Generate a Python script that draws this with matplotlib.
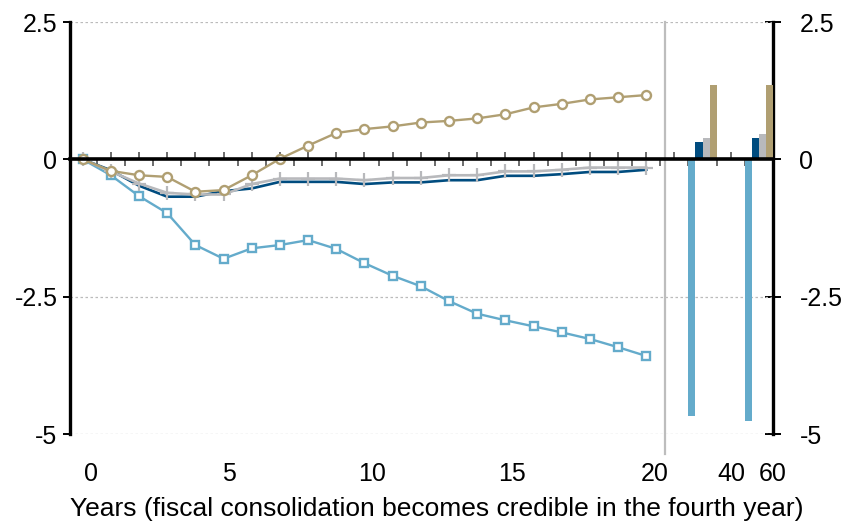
import matplotlib
matplotlib.use("Agg")
import matplotlib.pyplot as plt
import numpy as np
from matplotlib.ticker import FixedLocator, NullFormatter

plt.rcParams['font.family'] = ['Liberation Sans', 'DejaVu Sans']

# ---- data ----
years = list(range(0, 21))
tan_series = [0.0, -0.21, -0.29, -0.32, -0.59, -0.56, -0.29, 0.01, 0.25, 0.48, 0.55,
              0.60, 0.67, 0.70, 0.745, 0.82, 0.945, 1.01, 1.09, 1.13, 1.17]
blue_series = [0.0, -0.29, -0.67, -0.98, -1.56, -1.81, -1.62, -1.56, -1.47, -1.63, -1.89,
               -2.12, -2.31, -2.58, -2.81, -2.93, -3.04, -3.15, -3.27, -3.42, -3.58]
gray_series = [0.0, -0.22, -0.44, -0.61, -0.64, -0.64, -0.45, -0.35, -0.35, -0.35, -0.38,
               -0.34, -0.34, -0.29, -0.29, -0.22, -0.22, -0.19, -0.15, -0.15, -0.15]
navy_series = [0.0, -0.20, -0.48, -0.68, -0.68, -0.58, -0.53, -0.41, -0.41, -0.41, -0.45,
               -0.42, -0.42, -0.38, -0.38, -0.30, -0.30, -0.27, -0.23, -0.23, -0.19]

long_run_labels = ["40", "60"]
bar_blue = [-4.67, -4.76]
bar_navy = [0.31, 0.39]
bar_gray = [0.39, 0.46]
bar_tan = [1.35, 1.35]

x_tick_labels = ["0", "5", "10", "15", "20", "40", "60"]
y_ticks = [-5, -2.5, 0, 2.5]
y_tick_labels = ["-5", "-2.5", "0", "2.5"]
xlabel = "Years (fiscal consolidation becomes credible in the fourth year)"

# ---- style ----
C_TAN = "#B09F72"
C_BLUE = "#64ABCB"
C_GRAY = "#B8B9BC"
C_NAVY = "#004C7F"
FS = 18

fig = plt.figure(figsize=(8.48, 5.25), dpi=100)
ax = fig.add_axes([70/848, 1-434/525, (773-70)/848, (434-22)/525])

x = np.array(years, dtype=float)
ax.plot(x, blue_series, color=C_BLUE, lw=1.7, marker="s", ms=6.2, mfc="white",
        mec=C_BLUE, mew=1.7, zorder=4)
ax.plot(x, navy_series, color=C_NAVY, lw=1.9, zorder=4)
ax.plot(x, gray_series, color=C_GRAY, lw=1.9, marker="+", ms=10, mew=1.6, zorder=4)
ax.plot(x, tan_series, color=C_TAN, lw=1.7, marker="o", ms=6.5, mfc="white",
        mec=C_TAN, mew=1.7, zorder=5)

# long-run bars
centers = np.array([22.0, 24.0])
w = 0.255
for k, (vals, col) in enumerate([(bar_blue, C_BLUE), (bar_navy, C_NAVY),
                                  (bar_gray, C_GRAY), (bar_tan, C_TAN)]):
    ax.bar(centers + (k - 1.5) * w, vals, width=w, color=col, zorder=3)

ax.set_xlim(-0.45, 24.5)
ax.set_ylim(-5, 2.5)

# separator
ax.axvline(20.68, ymin=-0.048, ymax=1, color="#BDBDBD", lw=1.6, clip_on=False, zorder=2)

# grid
for yv in [2.5, -2.5, -5]:
    ax.axhline(yv, color="#BBBBBB", lw=0.9, ls=(0, (2, 2)), zorder=1)

# spines
ax.spines['top'].set_visible(False)
ax.spines['bottom'].set_position(('data', 0))
ax.spines['bottom'].set_linewidth(2.6)
ax.spines['bottom'].set_zorder(6)
ax.spines['left'].set_linewidth(2.4)
ax.spines['right'].set_linewidth(2.4)

# zero-axis ticks
ax.xaxis.set_major_locator(FixedLocator(np.arange(0, 25)))
ax.xaxis.set_minor_locator(FixedLocator(np.arange(0, 25) + 0.5))
ax.xaxis.set_major_formatter(NullFormatter())
ax.tick_params(axis='x', which='major', direction='in', length=5, width=1.1, color="#444444")
ax.tick_params(axis='x', which='minor', direction='out', length=5, width=1.1, color="#444444")

# left y
ax.set_yticks(y_ticks)
ax.set_yticklabels(y_tick_labels, fontsize=FS)
ax.tick_params(axis='y', direction='out', length=5, width=1.4, pad=4)

# right y
sec = ax.secondary_yaxis('right')
sec.set_yticks(y_ticks)
sec.set_yticklabels(y_tick_labels, fontsize=FS)
sec.tick_params(axis='y', direction='inout', length=12, width=1.4, pad=13)
sec.spines['right'].set_visible(False)

# bottom labels
label_pos = [0.28, 5.18, 10.28, 15.25, 20.3, 23.02, 24.48]
secx = ax.secondary_xaxis(0.0)
secx.set_xticks(label_pos)
secx.set_xticklabels(x_tick_labels, fontsize=FS)
secx.tick_params(axis='x', length=0, pad=20)
secx.spines['bottom'].set_visible(False)
fig.text(436.5/848, 1 - 509/525, xlabel, fontsize=19, ha="center", va="center")

fig.savefig("out.png", dpi=100)
